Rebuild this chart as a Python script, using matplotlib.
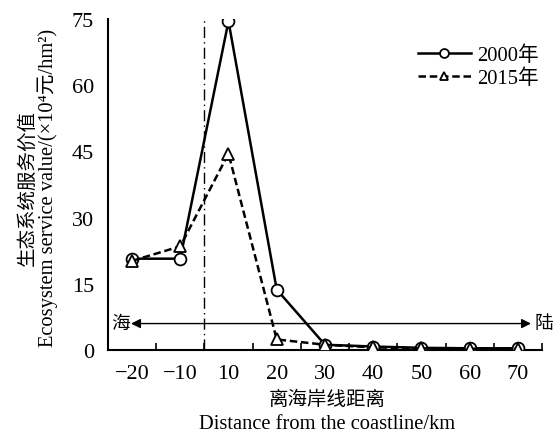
import matplotlib.pyplot as plt

plt.rcParams['font.family'] = ['Liberation Serif', 'Noto Sans CJK SC']

# distance categories (km) and service value (10^4 yuan/hm2)
distance = ["-20", "-10", "10", "20", "30", "40", "50", "60", "70"]
value_2000 = [20.7, 20.7, 74.5, 13.7, 1.2, 0.8, 0.5, 0.4, 0.4]
value_2015 = [20.2, 23.5, 44.5, 2.4, 1.2, 0.6, 0.4, 0.3, 0.3]
y_ticks = [0, 15, 30, 45, 60, 75]

fig = plt.figure(figsize=(5.56, 4.35), dpi=100)
ax = fig.add_axes([0.194, 0.193, 0.781, 0.761])

x = list(range(len(distance)))
ax.plot(x, value_2000, color="black", linewidth=1.8, marker="o", markersize=8.5,
        markerfacecolor="white", markeredgecolor="black", markeredgewidth=1.3,
        label="2000年", zorder=4)
ax.plot(x, value_2015, color="black", linewidth=1.8, linestyle=(0, (3, 1.5)),
        marker="^", markersize=8.5, markerfacecolor="white", markeredgecolor="black",
        markeredgewidth=1.3, label="2015年", zorder=5)

# coastline
ax.axvline(1.5, color="black", linewidth=1, linestyle=(0, (8, 3, 1, 3)), zorder=2)

# sea <-> land arrow
ax.annotate("", xy=(-0.02, 6), xytext=(8.27, 6),
            arrowprops=dict(arrowstyle="<|-|>", color="black", lw=1,
                            mutation_scale=14, shrinkA=0, shrinkB=0), zorder=1)
ax.text(-0.05, 6, "海", ha="right", va="center", fontsize=13.5)
ax.text(8.35, 6, "陆", ha="left", va="center", fontsize=13.5, clip_on=False)

ax.set_xlim(-0.5, 8.5)
ax.set_ylim(0, 75)
ax.set_xticks(x)
ax.set_xticklabels(["−20", "−10"] + distance[2:])
ax.set_xticks([i + 0.5 for i in range(-1, len(distance))], minor=True)
ax.set_yticks(y_ticks)
ax.tick_params(axis="x", which="major", length=0, labelsize=16, pad=10)
ax.tick_params(axis="x", which="minor", direction="in", length=5, width=1.2)
ax.tick_params(axis="y", direction="in", length=0, labelsize=16, pad=10)

for s in ["top", "right"]:
    ax.spines[s].set_visible(False)
for s in ["left", "bottom"]:
    ax.spines[s].set_linewidth(1.5)

fig.text(0.05, 0.568, "生态系统服务价值", rotation=90, ha="center", va="center", fontsize=14)
fig.text(0.086, 0.568, "Ecosystem service value/(×10⁴元/hm²)", rotation=90,
         ha="center", va="center", fontsize=14.8)
fig.text(0.588, 0.08, "离海岸线距离", ha="center", va="center", fontsize=14)
fig.text(0.588, 0.025, "Distance from the coastline/km", ha="center", va="center", fontsize=14.8)

ax.legend(loc="upper right", bbox_to_anchor=(1.035, 0.975), frameon=False, fontsize=14.8,
          handlelength=2.6, handletextpad=0.3, labelspacing=0.15, markerscale=0.75)

fig.savefig("out.png", dpi=100)
